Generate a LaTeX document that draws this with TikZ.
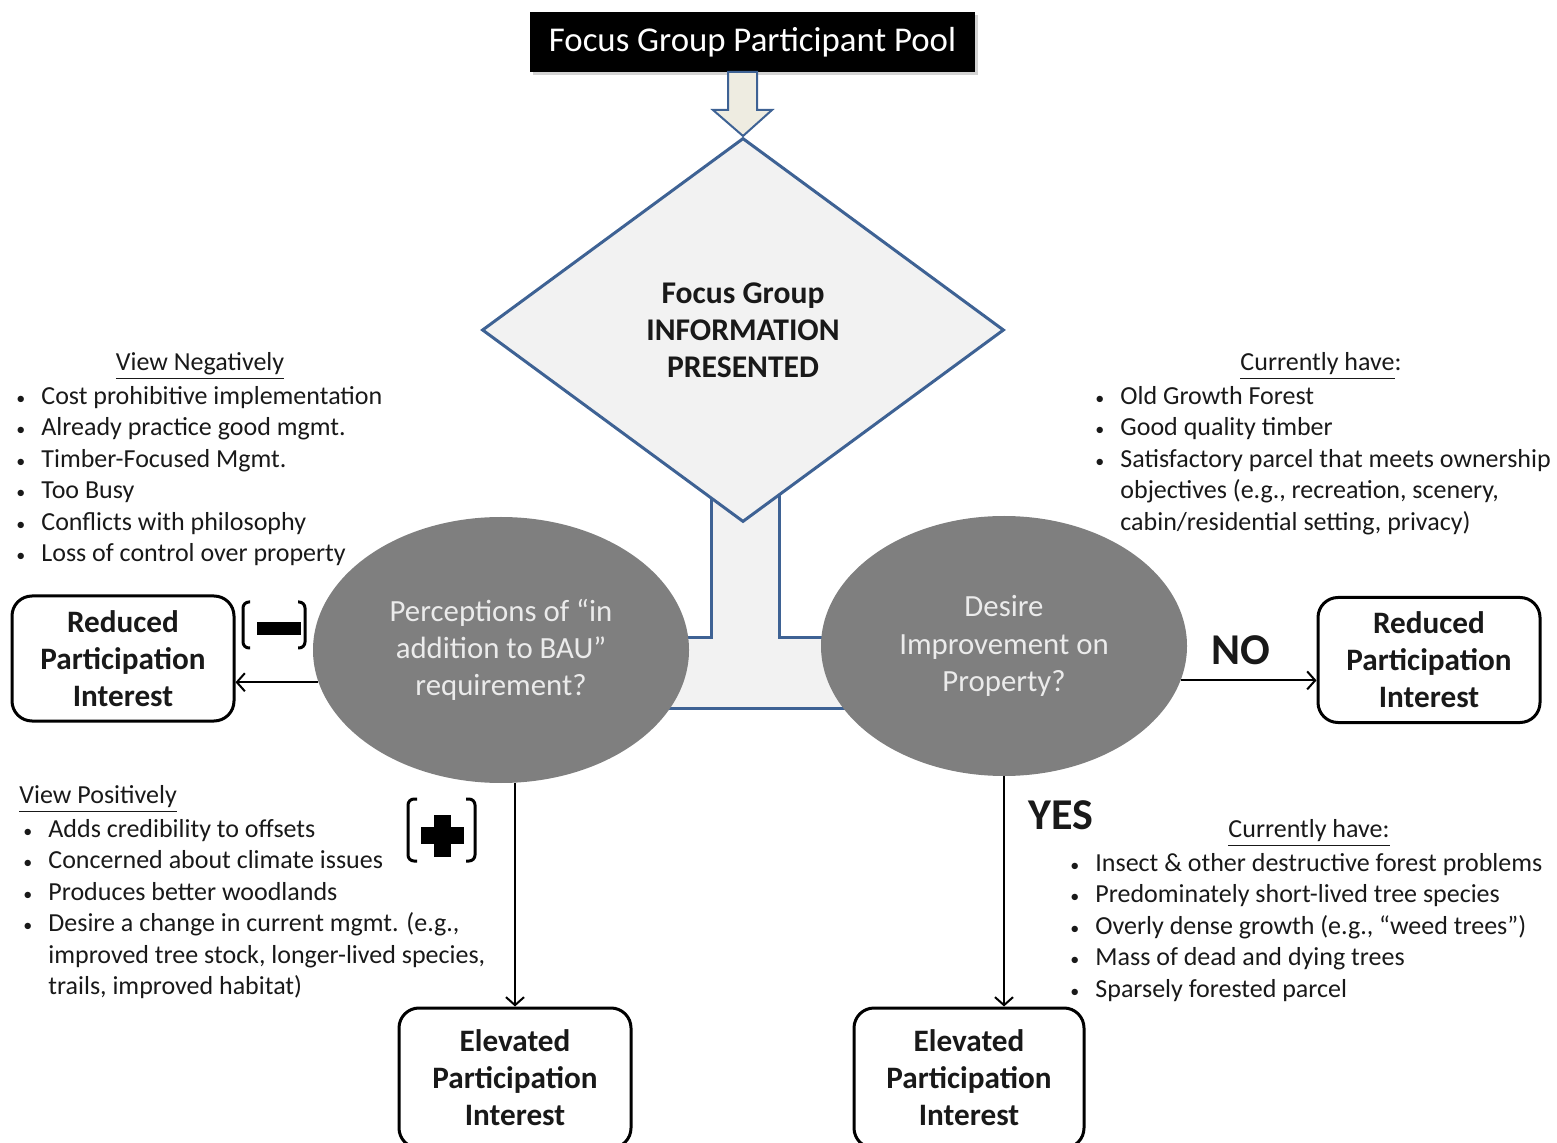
\documentclass[tikz,border=0pt]{standalone}
\usepackage{fontspec}
\setmainfont{Carlito}
\usetikzlibrary{arrows.meta, positioning, shapes.geometric, shadows}

\definecolor{edgeblue}{RGB}{62,98,148}
\definecolor{panel}{RGB}{242,242,242}
\definecolor{shaftfill}{RGB}{238,236,225}
\definecolor{ellgray}{RGB}{127,127,127}
\definecolor{elltext}{RGB}{235,235,235}
\definecolor{ink}{RGB}{25,25,25}

\newcommand{\bul}{\makebox[14pt][l]{\hspace*{1.5pt}{\fontsize{9}{9}\selectfont\textbullet}}}
\newcommand{\ind}{\hspace*{14pt}}

\begin{document}
\begin{tikzpicture}[x=0.5pt, y=-0.5pt,
    outcome/.style={draw, line width=1.5pt, rounded corners=10pt, minimum width=111pt, minimum height=62.5pt, inner sep=0pt, align=center, text=ink, font=\fontsize{15.6}{18.5}\selectfont\bfseries},
    query/.style={ellipse, fill=ellgray, inner sep=0pt, align=center, text=elltext, font=\fontsize{15.4}{18.6}\selectfont},
    head/.style={inner sep=0pt, text=ink, font=\fontsize{13}{15.7}\selectfont},
    list/.style={inner sep=0pt, anchor=north west, align=left, text=ink, font=\fontsize{13}{15.7}\selectfont},
    arr/.style={-{Straight Barb[length=4pt, width=9pt]}, line width=1pt},
    answer/.style={inner sep=0pt, text=ink, font=\fontsize{22}{26}\selectfont\bfseries},
    bracket/.style={line width=1.5pt, rounded corners=3pt}
]
\useasboundingbox (0,0) rectangle (1557,1143);

% top of the flow
\node[fill=black, text=white, minimum width=222.5pt, minimum height=30pt, inner sep=0pt,
      font=\fontsize{17.4}{20}\selectfont,
      drop shadow={shadow xshift=1.5pt, shadow yshift=-1.5pt, opacity=0.35}] (pool) at (752.5,42) {Focus Group Participant Pool};
\draw[draw=edgeblue, line width=1pt, fill=shaftfill] (728,72) -- (728,110) -- (713,110) -- (743,136)
    -- (772,110) -- (757,110) -- (757,72) -- cycle;

% T-shaped panel behind the decision
\draw[draw=edgeblue, line width=1.5pt, fill=panel] (711,480) -- (711,638) -- (600,638) -- (600,708)
    -- (880,708) -- (880,638) -- (779,638) -- (779,480) -- cycle;

\node[diamond, draw=edgeblue, line width=1.5pt, fill=panel, minimum width=261pt, minimum height=192pt,
      inner sep=0pt, align=center, text=ink, font=\fontsize{15.8}{18.5}\selectfont\bfseries] (info) at (743,330)
      {Focus Group\\INFORMATION\\PRESENTED};

\node[query, minimum width=188pt, minimum height=133pt] (bau) at (501,650) {Perceptions of “in\\addition to BAU”\\requirement?};
\node[query, minimum width=183pt, minimum height=130pt] (desire) at (1004,646) {Desire\\Improvement on\\Property?};

% outcomes
\node[outcome] (redl) at (123,658.5) {Reduced\\Participation\\Interest};
\node[outcome] (redr) at (1429,660) {Reduced\\Participation\\Interest};
\node[outcome, minimum width=116pt, minimum height=70pt] (elevl) at (515,1078) {Elevated\\Participation\\Interest};
\node[outcome, minimum width=115pt, minimum height=70pt] (elevr) at (969,1078) {Elevated\\Participation\\Interest};

\draw[arr] (bau.190) -- (bau.190 -| redl.east);
\draw[arr] (desire.-11) -- (desire.-11 -| redr.west);
\draw[arr] (elevl.north |- bau.south) -- (elevl.north);
\draw[arr] (desire.south) -- (desire.south |- elevr.north);

\node[answer] (no) at (1241,650) {NO};
\node[answer] (yes) at (1061,815) {YES};

% minus and plus signs
\draw[bracket] (250,602) -- (243,602) -- (243,648) -- (250,648);
\draw[bracket] (298,602) -- (305,602) -- (305,648) -- (298,648);
\fill (257,622) rectangle (301,635);
\draw[bracket] (417,799) -- (408,799) -- (408,861) -- (417,861);
\draw[bracket] (466,799) -- (475,799) -- (475,861) -- (466,861);
\fill (421,827) rectangle (464,844);
\fill (434,815) rectangle (451,857);

% notes
\node[head] (negh) at (200,366) {\underline{View Negatively}};
\node[list] (neg) at (13,386) {\bul Cost prohibitive implementation\\
    \bul Already practice good mgmt.\\
    \bul Timber-Focused Mgmt.\\
    \bul Too Busy\\
    \bul Conflicts with philosophy\\
    \bul Loss of control over property};

\node[head] (haveh) at (1321,366) {\underline{Currently have}:};
\node[list] (have) at (1092,386) {\bul Old Growth Forest\\
    \bul Good quality timber\\
    \bul Satisfactory parcel that meets ownership\\
    \ind objectives (e.g., recreation, scenery,\\
    \ind cabin/residential setting, privacy)};

\node[head, anchor=west] (posh) at (19,799) {\underline{View Positively}};
\node[list] (pos) at (20,819) {\bul Adds credibility to offsets\\
    \bul Concerned about climate issues\\
    \bul Produces better woodlands\\
    \bul Desire a change in current mgmt. (e.g.,\\
    \ind improved tree stock, longer-lived species,\\
    \ind trails, improved habitat)};

\node[head] (needh) at (1309,833) {\underline{Currently have:}};
\node[list] (need) at (1067,853) {\bul Insect \& other destructive forest problems\\
    \bul Predominately short-lived tree species\\
    \bul Overly dense growth (e.g., “weed trees”)\\
    \bul Mass of dead and dying trees\\
    \bul Sparsely forested parcel};
\end{tikzpicture}
\end{document}
